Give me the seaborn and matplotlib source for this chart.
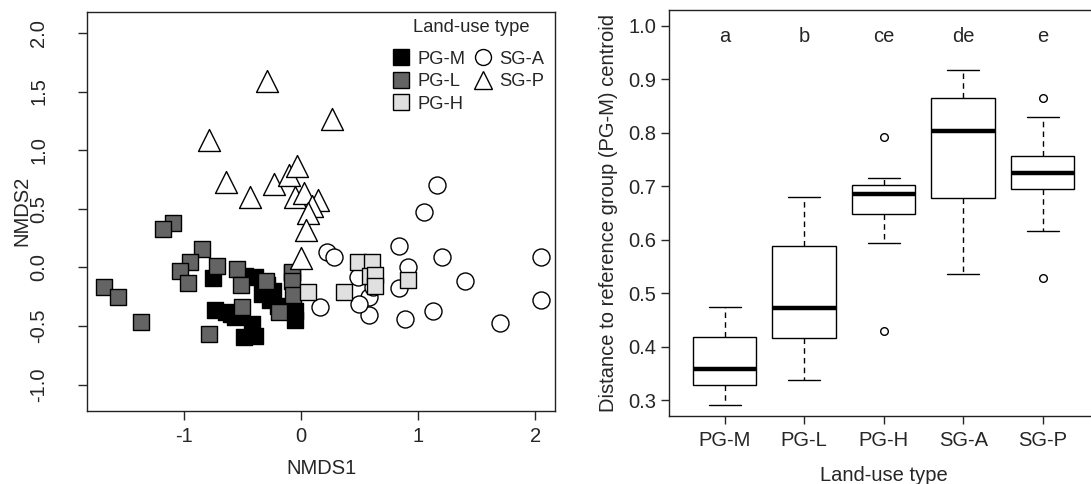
import numpy as np
import pandas as pd
import matplotlib
matplotlib.use("Agg")
import matplotlib.pyplot as plt
from matplotlib.lines import Line2D
import seaborn as sns

# ---------------- data: NMDS ordination (left panel) ----------------
pgm_x = [-0.75, -0.73, -0.64, -0.56, -0.49, -0.39, -0.42, -0.48, -0.39, -0.335,
         -0.265, -0.194, -0.08, -0.051, -0.051, -0.293, -0.24, -0.60]
pgm_y = [-0.09, -0.36, -0.38, -0.42, -0.59, -0.58, -0.48, -0.07, -0.08, -0.23,
         -0.28, -0.33, -0.05, -0.37, -0.45, -0.15, -0.20, -0.40]

pgl_x = [-1.089, -1.175, -1.678, -1.559, -1.365, -0.848, -0.947, -1.032, -0.961, -0.72,
         -0.549, -0.515, -0.299, -0.074, -0.074, -0.065, -0.185, -0.506, -0.782]
pgl_y = [0.382, 0.331, -0.163, -0.249, -0.462, 0.155, 0.05, -0.03, -0.129, 0.016,
         -0.016, -0.149, -0.115, -0.041, -0.115, -0.234, -0.376, -0.334, -0.57]

pgh_x = [0.489, 0.609, 0.589, 0.631, 0.916, 0.063, 0.367, 0.631]
pgh_y = [0.045, 0.045, -0.075, -0.064, -0.11, -0.21, -0.213, -0.155]

sga_x = [1.158, 1.05, 0.839, 1.2, 2.045, 2.045, 0.91, 1.399, 1.129, 0.887,
         1.695, 0.836, 0.219, 0.282, 0.162, 0.577, 0.577, 0.484, 0.493, 0.617]
sga_y = [0.703, 0.473, 0.183, 0.09, 0.09, -0.277, 0.007, -0.112, -0.371, -0.442,
         -0.47, -0.179, 0.128, 0.088, -0.334, -0.405, -0.249, -0.078, -0.312, -0.163]

sgp_x = [-0.293, 0.262, -0.782, -0.643, -0.435, -0.226, -0.101, -0.031, -0.054, 0.027,
         0.148, 0.094, 0.057, 0.043, -0.003]
sgp_y = [1.588, 1.267, 1.087, 0.731, 0.604, 0.71, 0.788, 0.866, 0.601, 0.632,
         0.571, 0.525, 0.462, 0.32, 0.082]

groups = ["PG-M", "PG-L", "PG-H", "SG-A", "SG-P"]

# ---------------- data: distance to PG-M centroid (right panel) ----------------
whis_lo = [0.291, 0.337, 0.594, 0.535, 0.617]
q1 = [0.328, 0.416, 0.648, 0.677, 0.694]
med = [0.358, 0.473, 0.685, 0.803, 0.725]
q3 = [0.418, 0.588, 0.702, 0.865, 0.757]
whis_hi = [0.474, 0.679, 0.715, 0.916, 0.830]
fliers = [[], [], [0.792, 0.430], [], [0.865, 0.528]]
letters = ["a", "b", "ce", "de", "e"]

# ---------------- style ----------------
sns.set_style("white")
plt.rcParams["font.family"] = ["Liberation Sans", "DejaVu Sans"]
plt.rcParams["axes.unicode_minus"] = False
FS = 14.5

face = {"PG-M": "#000000", "PG-L": "#646464", "PG-H": "#e0e0e0",
        "SG-A": "#ffffff", "SG-P": "#ffffff"}
mark = {"PG-M": "s", "PG-L": "s", "PG-H": "s", "SG-A": "o", "SG-P": "^"}
msize = {"PG-M": 120, "PG-L": 120, "PG-H": 120, "SG-A": 150, "SG-P": 250}

fig = plt.figure(figsize=(10.91, 4.84), dpi=100)
W, H = 1091.0, 484.0
ax1 = fig.add_axes([87.3 / W, (H - 410.7) / H, (555 - 87.3) / W, (410.7 - 12) / H])
ax2 = fig.add_axes([669 / W, (H - 415.7) / H, (5.4 * 79.5) / W, (415.7 - 10) / H])

# ---------------- left panel ----------------
xs = {"PG-M": pgm_x, "PG-L": pgl_x, "PG-H": pgh_x, "SG-A": sga_x, "SG-P": sgp_x}
ys = {"PG-M": pgm_y, "PG-L": pgl_y, "PG-H": pgh_y, "SG-A": sga_y, "SG-P": sgp_y}
frames = [pd.DataFrame({"NMDS1": xs[g], "NMDS2": ys[g], "group": g}) for g in groups]
df = pd.concat(frames, ignore_index=True)

for g in ["PG-M", "PG-L", "SG-A", "PG-H", "SG-P"]:
    sub = df[df["group"] == g]
    sns.scatterplot(data=sub, x="NMDS1", y="NMDS2", ax=ax1, marker=mark[g],
                    s=msize[g], color=face[g], edgecolor="black", linewidth=1.0,
                    legend=False, zorder=3)

ax1.set_xlim(-1.823, 2.167)
ax1.set_ylim(-1.221, 2.178)
ax1.set_xticks([-1, 0, 1, 2])
yt = [-1.0, -0.5, 0.0, 0.5, 1.0, 1.5, 2.0]
ax1.set_yticks(yt)
ax1.set_yticklabels([f"{v:.1f}" for v in yt], rotation=90, va="center")
ax1.tick_params(axis="x", length=6.5, width=1, pad=5, labelsize=FS, direction="out",
                bottom=True)
ax1.tick_params(axis="y", length=6.5, width=1, pad=21.5, labelsize=FS, direction="out",
                left=True)
ax1.set_xlabel("NMDS1", fontsize=FS)
ax1.set_ylabel("NMDS2", fontsize=FS)
ax1.xaxis.set_label_coords(0.5, -0.122)
ax1.yaxis.set_label_coords(-0.12, 0.5)

handles = []
for g in groups:
    sz = {"SG-P": 13, "SG-A": 11.5}.get(g, 11)
    handles.append(Line2D([], [], linestyle="none", marker=mark[g], markersize=sz,
                          markerfacecolor=face[g], markeredgecolor="black",
                          markeredgewidth=1.0, label=g))
leg = ax1.legend(handles=handles, ncol=2, loc="upper right",
                 bbox_to_anchor=(1.005, 0.935), frameon=False, fontsize=13.2,
                 handlelength=0.9, handletextpad=0.45,
                 columnspacing=0.5, labelspacing=0.3, borderaxespad=0.3)
ax1.text(0.82, 0.96, "Land-use type", transform=ax1.transAxes, ha="center",
         va="center", fontsize=13.2)

# ---------------- right panel ----------------
stats = []
for i, g in enumerate(groups):
    stats.append({"label": g, "whislo": whis_lo[i], "q1": q1[i], "med": med[i],
                  "q3": q3[i], "whishi": whis_hi[i], "fliers": fliers[i]})
ax2.bxp(stats, positions=range(1, 6), widths=0.8, capwidths=0.4, showfliers=True,
        patch_artist=True,
        boxprops=dict(facecolor="white", edgecolor="black", linewidth=1.0),
        medianprops=dict(color="black", linewidth=3.2, solid_capstyle="butt"),
        whiskerprops=dict(color="black", linewidth=1.0, linestyle=(0, (4, 3))),
        capprops=dict(color="black", linewidth=1.0),
        flierprops=dict(marker="o", markersize=5.5, markerfacecolor="white",
                        markeredgecolor="black", markeredgewidth=1.0))
for i, t in enumerate(letters):
    ax2.text(i + 1, 0.98, t, ha="center", va="center", fontsize=FS)

ax2.set_xlim(0.3, 5.7)
ax2.set_ylim(0.271, 1.029)
ax2.set_xticks(range(1, 6))
ax2.set_xticklabels(groups)
ryt = [0.3, 0.4, 0.5, 0.6, 0.7, 0.8, 0.9, 1.0]
ax2.set_yticks(ryt)
ax2.set_yticklabels([f"{v:.1f}" for v in ryt])
ax2.tick_params(axis="x", length=6, width=1, pad=5, labelsize=FS, direction="out",
                bottom=True)
ax2.tick_params(axis="y", length=6, width=1, pad=3, labelsize=FS, direction="out",
                left=True)
ax2.set_xlabel("Land-use type", fontsize=FS)
ax2.set_ylabel("Distance to reference group (PG-M) centroid", fontsize=FS)
ax2.xaxis.set_label_coords(0.5, -0.125)
ax2.yaxis.set_label_coords(-0.118, 0.5)

for ax in (ax1, ax2):
    for sp in ax.spines.values():
        sp.set_visible(True)
        sp.set_color("#222222")
        sp.set_linewidth(1.0)

fig.savefig("out.png", dpi=100)
